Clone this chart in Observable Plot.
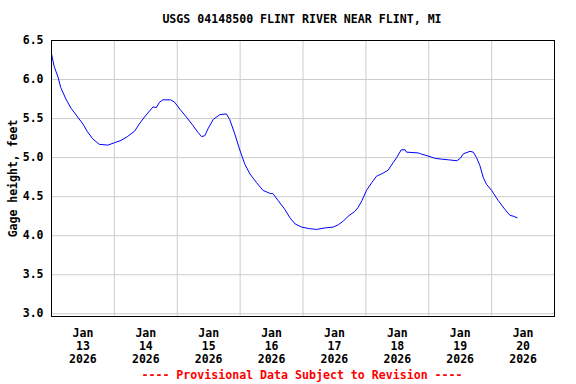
<!DOCTYPE html>
<html>
<head>
<meta charset="utf-8">
<script src="https://cdn.jsdelivr.net/npm/d3@7"></script>
<script src="https://cdn.jsdelivr.net/npm/@observablehq/plot@0.6"></script>
<style>
  html, body { margin: 0; padding: 0; background: #fff; }
  #wrap { width: 576px; height: 384px; position: relative; font-family: "DejaVu Sans Mono", monospace; font-weight: bold; }
  #title { height: 30px; width: 576px; text-align: center; font-size: 11.6px; line-height: 39px; color: #000; padding-left: 28px; box-sizing: border-box; }
  #caption { width: 576px; text-align: center; font-size: 11.6px; color: #ff0000; padding-left: 28px; box-sizing: border-box; line-height: 18px; }
  svg { display: block; }
</style>
</head>
<body>
<div id="wrap">
  <div id="title">USGS 04148500 FLINT RIVER NEAR FLINT, MI</div>
  <div id="chart"></div>
  <div id="caption">---- Provisional Data Subject to Revision ----</div>
</div>
<script>
const times = [
  "2026-01-13T00:00","2026-01-13T01:00","2026-01-13T02:30","2026-01-13T03:30","2026-01-13T05:30",
  "2026-01-13T07:30","2026-01-13T10:00","2026-01-13T12:00","2026-01-13T13:45","2026-01-13T15:45",
  "2026-01-13T18:15","2026-01-13T21:30","2026-01-14T00:00","2026-01-14T02:30","2026-01-14T05:00",
  "2026-01-14T07:45","2026-01-14T09:30","2026-01-14T11:30","2026-01-14T14:45","2026-01-14T16:00",
  "2026-01-14T17:15","2026-01-14T18:30","2026-01-14T21:30","2026-01-14T23:00","2026-01-15T01:00",
  "2026-01-15T03:30","2026-01-15T06:00","2026-01-15T08:00","2026-01-15T09:15","2026-01-15T10:30",
  "2026-01-15T11:45","2026-01-15T13:45","2026-01-15T16:15","2026-01-15T18:45","2026-01-15T20:00",
  "2026-01-15T22:00","2026-01-15T23:45","2026-01-16T01:45","2026-01-16T03:45","2026-01-16T06:15",
  "2026-01-16T08:45","2026-01-16T11:30","2026-01-16T12:30","2026-01-16T14:30","2026-01-16T17:00",
  "2026-01-16T19:00","2026-01-16T21:00","2026-01-16T23:30","2026-01-17T02:30","2026-01-17T05:15",
  "2026-01-17T08:30","2026-01-17T11:30","2026-01-17T13:30","2026-01-17T15:30","2026-01-17T17:15",
  "2026-01-17T19:45","2026-01-17T21:00","2026-01-17T22:30","2026-01-18T00:15","2026-01-18T02:15",
  "2026-01-18T04:00","2026-01-18T06:30","2026-01-18T08:30","2026-01-18T10:30","2026-01-18T11:45",
  "2026-01-18T13:30","2026-01-18T15:00","2026-01-18T15:30","2026-01-18T20:00","2026-01-18T20:45",
  "2026-01-18T23:45","2026-01-19T02:30","2026-01-19T05:00","2026-01-19T08:00","2026-01-19T10:45",
  "2026-01-19T12:00","2026-01-19T13:15","2026-01-19T15:45","2026-01-19T17:00","2026-01-19T18:15",
  "2026-01-19T19:30","2026-01-19T20:45","2026-01-19T22:00","2026-01-20T00:00","2026-01-20T02:30",
  "2026-01-20T05:00","2026-01-20T07:00","2026-01-20T08:15","2026-01-20T09:45"
];
const gageHeight = [
  6.33,6.17,6.03,5.90,5.75,
  5.63,5.52,5.43,5.33,5.24,
  5.17,5.16,5.19,5.22,5.27,
  5.34,5.43,5.52,5.65,5.64,
  5.71,5.74,5.74,5.71,5.62,
  5.52,5.41,5.32,5.27,5.28,
  5.37,5.49,5.55,5.56,5.49,
  5.30,5.11,4.92,4.79,4.68,
  4.58,4.54,4.54,4.45,4.34,
  4.23,4.15,4.11,4.09,4.08,
  4.10,4.11,4.14,4.19,4.25,
  4.31,4.36,4.45,4.58,4.68,
  4.76,4.80,4.84,4.94,5.00,
  5.10,5.10,5.07,5.06,5.05,
  5.02,4.99,4.98,4.97,4.96,
  4.99,5.05,5.08,5.07,5.00,
  4.90,4.75,4.66,4.58,4.45,
  4.34,4.26,4.25,4.23
];
const dayTicks = ["2026-01-13","2026-01-14","2026-01-15","2026-01-16","2026-01-17","2026-01-18","2026-01-19","2026-01-20","2026-01-21"];
const dayLabels = ["Jan\n13\n2026","Jan\n14\n2026","Jan\n15\n2026","Jan\n16\n2026","Jan\n17\n2026","Jan\n18\n2026","Jan\n19\n2026","Jan\n20\n2026"];
const yTicks = [3.0,3.5,4.0,4.5,5.0,5.5,6.0,6.5];
const yLabel = "Gage height, feet";

const data = times.map((t, i) => ({date: new Date(t + "Z"), value: gageHeight[i]}));
const midnights = dayTicks.map(d => new Date(d + "T00:00Z"));
const noons = dayLabels.map((l, i) => new Date(dayTicks[i] + "T12:00Z"));
const labelFor = new Map(noons.map((d, i) => [+d, dayLabels[i]]));

const chart = Plot.plot({
  width: 576,
  height: 336,
  marginTop: 10,
  marginBottom: 50,
  marginLeft: 51,
  marginRight: 22,
  style: {fontFamily: "DejaVu Sans Mono, monospace", fontWeight: "bold", fontSize: "11.5px", color: "#000", background: "#fff"},
  x: {type: "utc", domain: [midnights[0], midnights[midnights.length - 1]]},
  y: {domain: [2.965, 6.5]},
  marks: [
    Plot.gridX(midnights.slice(1, -1), {stroke: "#cccccc", strokeOpacity: 1, strokeWidth: 1}),
    Plot.gridY(yTicks, {stroke: "#cccccc", strokeOpacity: 1, strokeWidth: 1}),
    Plot.axisX(noons, {tickSize: 0, tickPadding: 11, lineHeight: 1.13, tickFormat: d => labelFor.get(+d), fontWeight: "bold", label: null}),
    Plot.axisY(yTicks, {tickSize: 0, tickPadding: 8, tickFormat: d => d.toFixed(1), fontWeight: "bold", label: yLabel, labelAnchor: "center", labelArrow: "none", labelOffset: 43}),
    Plot.line(data, {x: "date", y: "value", stroke: "#0000ff", strokeWidth: 1}),
    Plot.frame({stroke: "#000", strokeWidth: 1})
  ]
});
document.getElementById("chart").appendChild(chart);
</script>
</body>
</html>
